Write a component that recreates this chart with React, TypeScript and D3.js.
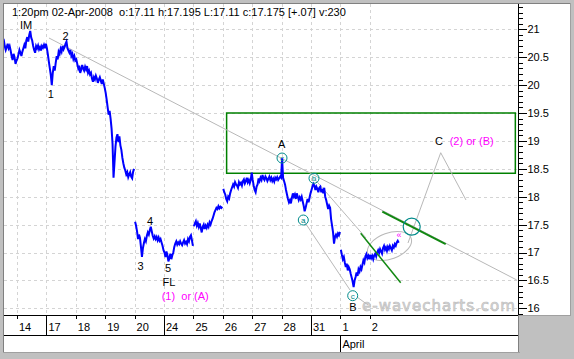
import React from "react";
import * as d3 from "d3";

// ---- quote header ----
const quoteTime = "1:20pm";
const quoteDate = "02-Apr-2008";
const quoteOpen = "17.11";
const quoteHigh = "17.195";
const quoteLow = "17.11";
const quoteClose = "17.175";
const quoteChange = "+.07";
const quoteVolume = "230";

// ---- time axis ----
const dayLabels = ["14", "17", "18", "19", "20", "24", "25", "26", "27", "28", "31", "1", "2"];
const weekStarts = ["17", "24", "31"];
const monthStarts = [{ day: "1", label: "April" }];
const gapBefore = ["20", "25", "26", "1"];
const BARS_PER_DAY = 30;

// ---- price axis ----
const priceTicks = [16, 16.5, 17, 17.5, 18, 18.5, 19, 19.5, 20, 20.5, 21];
const priceTickLabels = ["16", "16.5", "17", "17.5", "18", "18.5", "19", "19.5", "20", "20.5", "21"];

// ---- intraday prices, one value per bar (tail of the previous session first) ----
const mar13 = [
  null, null, null, null, null, null, null, null, null, null, null, null, null, null, null,
  20.84, 20.81, 20.7, 20.63, 20.68, 20.74, 20.66, 20.7, 20.62, 20.52, 20.45, 20.56, 20.5, 20.38, 20.44,
];
const mar14 = [
  20.48, 20.55, 20.63, 20.58, 20.52, 20.6, 20.66, 20.72, 20.66, 20.8, 20.86, 20.78, 20.9, 20.97, 20.85,
  20.8, 20.7, 20.63, 20.58, 20.7, 20.66, 20.71, 20.64, 20.68, 20.62, 20.7, 20.67, 20.72, 20.66, 20.74,
];
const mar17 = [
  20.66, 20.55, 20.42, 20.3, 20.18, 20.0, 20.22, 20.34, 20.26, 20.4, 20.52, 20.46, 20.6, 20.56, 20.65,
  20.6, 20.7, 20.64, 20.68, 20.74, 20.78, 20.66, 20.62, 20.58, 20.63, 20.52, 20.56, 20.47, 20.52, 20.44,
];
const mar18 = [
  20.46, 20.38, 20.3, 20.35, 20.22, 20.27, 20.36, 20.3, 20.26, 20.33, 20.28, 20.34, 20.22, 20.26, 20.19,
  20.22, 20.12, 20.06, 20.14, 20.1, 20.17, 20.12, 20.04, 20.1, 20.14, 20.08, 20.02, 20.1, 20.03, 19.95,
];
const mar19 = [
  19.86, 19.74, 19.6, 19.47, 19.54, 19.4, 19.22, 18.95, 18.34, 18.62, 18.9, 19.06, 19.12, 18.98, 19.08,
  18.92, 18.84, 18.7, 18.6, 18.52, 18.47, 18.4, 18.44, 18.35, 18.4, 18.44, 18.36, 18.33, 18.45, 18.5,
];
const mar20 = [
  17.55, 17.48, 17.38, 17.24, 17.32, 17.26, 17.1, 16.92, 17.08, 17.17, 17.24, 17.2, 17.3, 17.36, 17.32,
  17.4, 17.46, 17.38, 17.3, 17.25, 17.29, 17.24, 17.28, 17.22, 17.27, 17.21, 17.24, 17.18, 17.12, 17.04,
];
const mar24 = [
  17.0, 16.92, 17.02, 16.95, 16.84, 16.9, 16.98, 16.88, 16.95, 17.0, 17.1, 17.16, 17.2, 17.14, 17.18,
  17.15, 17.2, 17.16, 17.13, 17.18, 17.22, 17.16, 17.19, 17.15, 17.24, 17.2, 17.28, 17.31, 17.22, 17.12,
];
const mar25 = [
  17.47, 17.52, 17.56, 17.48, 17.53, 17.46, 17.52, 17.44, 17.36, 17.46, 17.5, 17.42, 17.48, 17.44, 17.5,
  17.46, 17.54, 17.5, 17.56, 17.6, 17.66, 17.72, 17.76, 17.8, 17.78, 17.83, 17.79, 17.82, 17.8, 17.82,
];
const mar26 = [
  18.14, 18.08, 18.04, 17.96, 17.92, 18.0, 17.97, 18.06, 18.12, 18.17, 18.22, 18.18, 18.26, 18.22, 18.2,
  18.16, 18.26, 18.22, 18.25, 18.2, 18.28, 18.31, 18.24, 18.28, 18.34, 18.26, 18.3, 18.24, 18.3, 18.43,
];
const mar27 = [
  18.3, 18.2, 18.12, 18.08, 18.18, 18.22, 18.33, 18.28, 18.34, 18.3, 18.39, 18.33, 18.3, 18.36, 18.33,
  18.28, 18.32, 18.36, 18.3, 18.34, 18.28, 18.32, 18.27, 18.34, 18.31, 18.35, 18.3, 18.33, 18.36, 18.34,
];
const mar28 = [
  18.69, 18.34, 18.28, 18.22, 18.12, 18.04, 17.96, 17.9, 17.94, 17.88, 17.98, 18.06, 18.0, 18.04, 17.96,
  18.06, 18.0, 17.94, 17.99, 17.95, 18.0, 17.92, 17.84, 17.74, 17.8, 17.88, 17.96, 17.9, 17.98, 18.06,
];
const mar31 = [
  18.12, 18.18, 18.23, 18.2, 18.12, 18.18, 18.14, 18.08, 18.16, 18.18, 18.08, 18.14, 18.06, 18.16, 18.0,
  17.94, 17.86, 17.78, 17.84, 17.8, 17.6, 17.48, 17.36, 17.16, 17.28, 17.32, 17.28, 17.34, 17.31, 17.37,
];
const apr1 = [
  17.05, 16.96, 16.88, 16.92, 16.82, 16.74, 16.8, 16.68, 16.74, 16.7, 16.62, 16.55, 16.48, 16.38, 16.5,
  16.56, 16.64, 16.58, 16.7, 16.66, 16.74, 16.7, 16.78, 16.86, 16.82, 16.93, 16.97, 16.9, 16.94, 16.88,
];
const apr2 = [
  16.96, 16.9, 16.94, 16.88, 16.95, 16.98, 16.93, 17.0, 17.04, 16.99, 17.06, 17.02, 16.98, 17.08, 17.12,
  17.05, 17.09, 17.03, 17.1, 17.06, 17.12, 17.08, 17.04, 17.12, 17.09, 17.15, 17.12, 17.18, 17.21, 17.175,
];

const sessions = [mar13, mar14, mar17, mar18, mar19, mar20, mar24, mar25, mar26, mar27, mar28, mar31, apr1, apr2];

// ---- wave count annotations, in [day index, price] ----
const waveLabels = [
  { text: "IM", t: 0.306, v: 21.077 },
  { text: "1", t: 1.146, v: 19.84 },
  { text: "2", t: 1.656, v: 20.88 },
  { text: "3", t: 4.207, v: 16.763 },
  { text: "4", t: 4.524, v: 17.57 },
  { text: "5", t: 5.136, v: 16.722 },
  { text: "FL", t: 5.17, v: 16.477 },
  { text: "A", t: 9.003, v: 18.939 },
  { text: "C", t: 14.354, v: 18.998 },
  { text: "B", t: 11.429, v: 16.029 },
];
const altLabels = [
  { text: "(1)  or (A)", t: 4.922, v: 16.226 },
  { text: "(2) or (B)", t: 14.718, v: 18.998 },
];
const subwaveMarkers = [
  { text: "c", t: 9.014, v: 18.693 },
  { text: "a", t: 9.738, v: 17.582 },
  { text: "b", t: 10.102, v: 18.33 },
  { text: "c", t: 11.418, v: 16.226 },
];
const targetMarker = { t: 13.425, v: 17.462 };
const trendLine = [[1.088, 20.844], [17.0, 16.507]];
const upperChannel = [[10.102, 18.33], [11.871, 17.26]];
const lowerChannel = [[9.738, 17.582], [11.327, 16.328]];
const tailLine = [[11.565, 16.202], [11.939, 16.059]];
const projection = [[13.299, 17.17], [14.412, 18.788], [15.272, 17.941]];
const greenLong = [[12.425, 17.731], [14.582, 17.152]];
const greenShort = [[11.69, 17.344], [13.051, 16.459]];
const resistanceZone = { t0: 7.13, t1: 16.95, v0: 18.42, v1: 19.5 };
const consolidation = { t: 12.67, v: 17.116 };
const breakoutMark = { t: 12.99, v: 17.31 };

const FONT = "'Liberation Sans', Arial, sans-serif";

export default function App() {
  const left = 4;
  const top = 4;
  const plotRight = 519;
  const panelRight = 570;
  const axisTop = 315;
  const monthTop = 335;
  const bottom = 352;

  const x = d3.scaleLinear().domain([0, 17]).range([17, 516.8]);
  const y = d3.scaleLinear().domain([16, 21]).range([308.3, 29.3]);

  type Pt = { t: number; v: number | null };
  const points: Pt[] = [];
  sessions.forEach((bars, i) => {
    const day = i - 1;
    const label = day >= 0 ? dayLabels[day] : "";
    if (gapBefore.includes(label)) points.push({ t: day, v: null });
    bars.forEach((v, k) => {
      points.push({ t: day + (k + 0.5) / BARS_PER_DAY, v });
    });
  });

  const priceLine = d3
    .line<Pt>()
    .defined((d) => d.v != null)
    .x((d) => x(d.t))
    .y((d) => y(d.v as number));

  const seg = d3
    .line<number[]>()
    .x((d) => x(d[0]))
    .y((d) => y(d[1]));

  const minorTicks = d3.range(159, 215).map((d) => d / 10);

  const header = `${quoteTime} ${quoteDate}  o:${quoteOpen} h:${quoteHigh} L:${quoteLow} c:${quoteClose} [${quoteChange}] v:${quoteVolume}`;

  return (
    <svg width={574} height={359} style={{ position: "absolute", left: 0, top: 0, display: "block" }}>
      <rect x={0} y={0} width={574} height={359} fill="#c0c0c0" />
      {/* panels */}
      <rect x={left} y={top} width={panelRight - left} height={axisTop - top} fill="#ffffff" />
      <rect x={left} y={axisTop} width={plotRight - left} height={bottom - axisTop} fill="#ffffff" />
      <line x1={3.5} x2={3.5} y1={3} y2={bottom} stroke="#808080" />
      <line x1={3} x2={panelRight} y1={3.5} y2={3.5} stroke="#808080" />
      <line x1={panelRight + 0.5} x2={panelRight + 0.5} y1={3} y2={axisTop + 1} stroke="#a0a0a0" />
      <line x1={plotRight} x2={panelRight + 1} y1={axisTop + 0.5} y2={axisTop + 0.5} stroke="#a0a0a0" />
      <line x1={3} x2={plotRight + 1} y1={bottom + 0.5} y2={bottom + 0.5} stroke="#a0a0a0" />

      <defs>
        <clipPath id="plot">
          <rect x={left} y={top} width={plotRight - left} height={axisTop - top} />
        </clipPath>
      </defs>

      {/* grid */}
      <g stroke="#d4d4d4" strokeDasharray="3,3" strokeWidth={1}>
        {priceTicks.map((p) => (
          <line key={p} x1={left} x2={plotRight} y1={Math.round(y(p)) + 0.5} y2={Math.round(y(p)) + 0.5} />
        ))}
        {dayLabels.map((d, i) => (
          <line key={d + i} x1={Math.round(x(i)) + 0.5} x2={Math.round(x(i)) + 0.5} y1={top} y2={axisTop} />
        ))}
      </g>

      {/* watermark */}
      <text
        x={362}
        y={311}
        fontFamily="'DejaVu Sans', Verdana, sans-serif"
        fontSize={15}
        letterSpacing={1}
        fill="#d6d6d6"
        stroke="#bdbdbd"
        strokeWidth={0.6}
      >
        e-wavecharts.com
      </text>

      <g clipPath="url(#plot)">
        {/* resistance zone */}
        <rect
          x={x(resistanceZone.t0)}
          y={y(resistanceZone.v1)}
          width={x(resistanceZone.t1) - x(resistanceZone.t0)}
          height={y(resistanceZone.v0) - y(resistanceZone.v1)}
          fill="none"
          stroke="#008000"
          strokeWidth={1.5}
        />
        {/* gray guide lines */}
        <g stroke="#b8b8b8" strokeWidth={1} fill="none">
          <path d={seg(trendLine as any) || ""} />
          <path d={seg(upperChannel as any) || ""} />
          <path d={seg(lowerChannel as any) || ""} />
          <path d={seg(tailLine as any) || ""} />
          <path d={seg(projection as any) || ""} />
          <ellipse
            cx={x(consolidation.t)}
            cy={y(consolidation.v)}
            rx={23}
            ry={13}
            transform={`rotate(-20 ${x(consolidation.t)} ${y(consolidation.v)})`}
          />
        </g>
        {/* price */}
        <path d={priceLine(points) || ""} fill="none" stroke="#0000ff" strokeWidth={2} strokeLinejoin="miter" />
        {/* green boundary lines */}
        <path d={seg(greenLong as any) || ""} stroke="#118811" strokeWidth={2} fill="none" />
        <path d={seg(greenShort as any) || ""} stroke="#118811" strokeWidth={1.5} fill="none" />
        {/* markers */}
        {subwaveMarkers.map((m, i) => (
          <g key={i}>
            <circle cx={x(m.t)} cy={y(m.v)} r={5} fill="none" stroke="#008b8b" strokeWidth={1} />
            <text
              x={x(m.t)}
              y={y(m.v) + 3}
              textAnchor="middle"
              fontFamily={FONT}
              fontSize={8}
              fill="#008b8b"
            >
              {m.text}
            </text>
          </g>
        ))}
        <circle cx={x(targetMarker.t)} cy={y(targetMarker.v)} r={8.5} fill="none" stroke="#008b8b" strokeWidth={1.2} />
        <text
          x={x(breakoutMark.t)}
          y={y(breakoutMark.v) + 3}
          textAnchor="middle"
          fontFamily={FONT}
          fontSize={9}
          fill="#ff00ff"
        >
          «
        </text>
        {/* wave labels */}
        {waveLabels.map((l, i) => (
          <text
            key={i}
            x={x(l.t)}
            y={y(l.v)}
            dy="0.35em"
            textAnchor="middle"
            fontFamily={FONT}
            fontSize={11}
            fill="#000000"
          >
            {l.text}
          </text>
        ))}
        {altLabels.map((l, i) => (
          <text
            key={i}
            x={x(l.t)}
            y={y(l.v)}
            dy="0.35em"
            fontFamily={FONT}
            fontSize={11}
            fill="#ff00ff"
            style={{ whiteSpace: "pre" }}
          >
            {l.text}
          </text>
        ))}
      </g>

      {/* header */}
      <text x={12} y={15.5} fontFamily={FONT} fontSize={11} fill="#000000" style={{ whiteSpace: "pre" }}>
        {header}
      </text>

      {/* price axis */}
      <line x1={plotRight - 0.5} x2={plotRight - 0.5} y1={top} y2={axisTop} stroke="#000000" />
      <g stroke="#000000">
        {minorTicks.map((p) => (
          <line key={p} x1={plotRight} x2={plotRight + 4} y1={Math.round(y(p)) + 0.5} y2={Math.round(y(p)) + 0.5} />
        ))}
        {priceTicks.map((p) => (
          <line key={p} x1={plotRight} x2={plotRight + 8} y1={Math.round(y(p)) + 0.5} y2={Math.round(y(p)) + 0.5} />
        ))}
      </g>
      {priceTicks.map((p, i) => (
        <text key={p} x={plotRight + 8.5} y={y(p)} dy="0.36em" fontFamily={FONT} fontSize={11} fill="#000000">
          {priceTickLabels[i]}
        </text>
      ))}

      {/* time axis */}
      <g stroke="#000000">
        <line x1={left} x2={plotRight} y1={axisTop + 0.5} y2={axisTop + 0.5} />
        <line x1={left} x2={plotRight} y1={monthTop + 0.5} y2={monthTop + 0.5} />
        <line x1={plotRight - 0.5} x2={plotRight - 0.5} y1={axisTop} y2={bottom} stroke="#808080" />
        {dayLabels.map((d, i) => {
          const px = Math.round(x(i)) + 0.5;
          const isWeek = weekStarts.includes(d);
          return <line key={d + i} x1={px} x2={px} y1={axisTop} y2={isWeek ? monthTop : axisTop + 4} />;
        })}
        {monthStarts.map((m) => {
          const px = Math.round(x(dayLabels.indexOf(m.day))) + 0.5;
          return <line key={m.label} x1={px} x2={px} y1={monthTop} y2={bottom} />;
        })}
      </g>
      {dayLabels.map((d, i) => (
        <text key={d + i} x={x(i) + 2} y={330.5} fontFamily={FONT} fontSize={11} fill="#000000">
          {d}
        </text>
      ))}
      {monthStarts.map((m) => (
        <text
          key={m.label}
          x={x(dayLabels.indexOf(m.day)) + 2}
          y={347.5}
          fontFamily={FONT}
          fontSize={11}
          fill="#000000"
        >
          {m.label}
        </text>
      ))}
    </svg>
  );
}
